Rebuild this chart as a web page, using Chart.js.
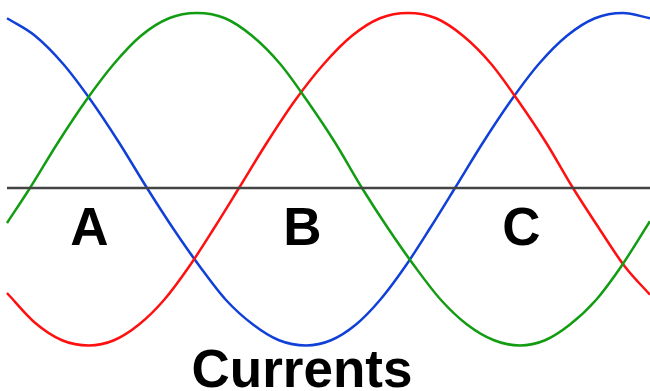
<!DOCTYPE html>
<html>
<head>
<meta charset="utf-8">
<script src="https://cdn.jsdelivr.net/npm/chart.js@4/dist/chart.umd.min.js"></script>
<style>
  html, body { margin: 0; padding: 0; background: #ffffff; }
  #wrap { width: 650px; height: 391px; position: relative; }
</style>
</head>
<body>
<div id="wrap"><canvas id="c" width="650" height="391"></canvas></div>
<script>
// Phase currents (peak = 1.0, horizontal axis = 0)
const greenX = [7, 30, 58, 86, 114, 141, 169, 197, 225, 252, 280, 307, 335, 362, 388, 415, 441, 467, 494, 520, 545, 570, 596, 621, 650];
const greenY = [-0.20, 0, 0.26, 0.50, 0.71, 0.87, 0.97, 1.0, 0.97, 0.87, 0.71, 0.50, 0.26, 0, -0.23, -0.45, -0.64, -0.78, -0.87, -0.90, -0.87, -0.78, -0.64, -0.45, -0.19];

const redX = [7, 35, 62, 89, 114, 139, 164, 189, 214, 239, 267, 295, 324, 352, 380, 408, 436, 463, 491, 518, 546, 573, 599, 625, 650];
const redY = [-0.60, -0.77, -0.87, -0.90, -0.87, -0.78, -0.64, -0.45, -0.23, 0, 0.26, 0.50, 0.71, 0.87, 0.97, 1.0, 0.97, 0.87, 0.71, 0.50, 0.26, 0, -0.23, -0.45, -0.61];

const blueX = [7, 35, 63, 91, 119, 147, 173, 200, 226, 253, 279, 306, 331, 356, 380, 405, 430, 455, 483, 511, 539, 567, 595, 623, 650];
const blueY = [0.97, 0.87, 0.71, 0.50, 0.26, 0, -0.23, -0.45, -0.64, -0.78, -0.87, -0.90, -0.87, -0.78, -0.64, -0.45, -0.23, 0, 0.26, 0.50, 0.71, 0.87, 0.97, 1.0, 0.97];

const axisX = [7, 650];
const axisY = [0, 0];

// Text labels
const phaseLabels = ['A', 'B', 'C'];
const phaseLabelX = [89.5, 302.5, 521.5];
const phaseLabelY = [-0.326, -0.326, -0.326];
const titleText = 'Currents';
const titleX = 302;
const titleY = -1.137;

function pts(xs, ys) { return xs.map((x, i) => ({ x: x, y: ys[i] })); }

const textPlugin = {
  id: 'textLabels',
  afterDraw(chart) {
    const ctx = chart.ctx;
    const sx = chart.scales.x, sy = chart.scales.y;
    ctx.save();
    ctx.fillStyle = '#000000';
    ctx.font = 'bold 53px "Liberation Sans", Arial, Helvetica, sans-serif';
    ctx.textAlign = 'center';
    ctx.textBaseline = 'alphabetic';
    phaseLabels.forEach((t, i) => {
      ctx.fillText(t, sx.getPixelForValue(phaseLabelX[i]), sy.getPixelForValue(phaseLabelY[i]));
    });
    ctx.fillText(titleText, sx.getPixelForValue(titleX), sy.getPixelForValue(titleY));
    ctx.restore();
  }
};

new Chart(document.getElementById('c'), {
  type: 'line',
  data: {
    datasets: [
      { data: pts(axisX, axisY), borderColor: '#444444', borderWidth: 2.5, tension: 0 },
      { data: pts(greenX, greenY), borderColor: '#129c12', borderWidth: 2.5, cubicInterpolationMode: 'monotone' },
      { data: pts(redX, redY), borderColor: '#ff1010', borderWidth: 2.5, cubicInterpolationMode: 'monotone' },
      { data: pts(blueX, blueY), borderColor: '#1040d8', borderWidth: 2.5, cubicInterpolationMode: 'monotone' }
    ]
  },
  options: {
    responsive: false,
    animation: false,
    layout: { padding: 0 },
    elements: { point: { radius: 0, hoverRadius: 0 }, line: { fill: false } },
    plugins: { legend: { display: false }, tooltip: { enabled: false }, title: { display: false } },
    scales: {
      x: { type: 'linear', min: 0, max: 650, display: false },
      y: { type: 'linear', min: -1.16, max: 1.0743, display: false }
    }
  },
  plugins: [textPlugin]
});
</script>
</body>
</html>
